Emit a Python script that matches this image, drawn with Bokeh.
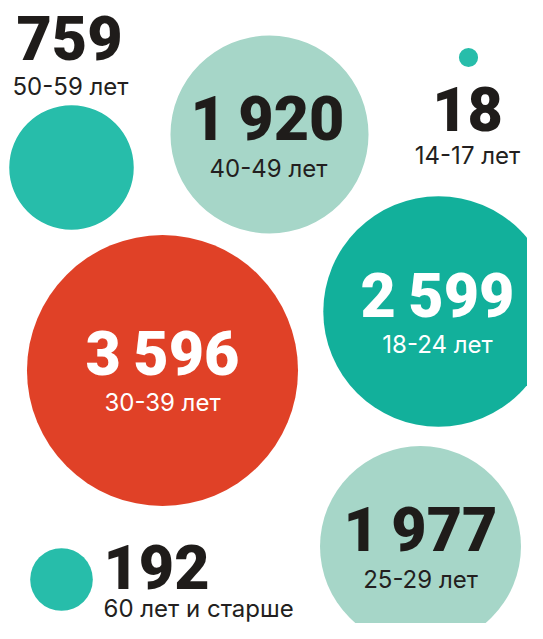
import math
from bokeh.plotting import figure
from bokeh.models import ColumnDataSource, Range1d
from bokeh.core.properties import value
from bokeh.embed import file_html
from bokeh.resources import INLINE

# ---- data ----
age_groups = ["50-59 лет", "40-49 лет", "14-17 лет", "18-24 лет", "30-39 лет", "25-29 лет", "60 лет и старше"]
counts = [759, 1920, 18, 2599, 3596, 1977, 192]

# ---- layout (pixel coordinates) ----
cx = [71, 269, 468, 438, 162, 420, 61]
cy = [167, 134, 57, 311, 370, 546, 579]
fills = ["#27BDAA", "#A6D6C8", "#27BDAA", "#12B09B", "#E04127", "#A6D6C8", "#27BDAA"]
num_x = [69, 267, 467, 437, 162, 420, 103]
num_y = [37, 118, 108, 295, 353, 529, 566]
lab_x = [70, 268, 467, 437, 162, 420, 103]
lab_y = [86, 168, 155, 344, 402, 579, 608]
align = ["center"] * 6 + ["left"]
num_col = ["#1f1c1a", "#1f1c1a", "#1f1c1a", "#ffffff", "#ffffff", "#1f1c1a", "#1f1c1a"]
lab_col = ["#231f20", "#231f20", "#231f20", "#ffffff", "#ffffff", "#231f20", "#231f20"]

K = 2.26
radii = [K * math.sqrt(v) for v in counts]
num_txt = [f"{v:,}".replace(",", "\u2009") for v in counts]

src = ColumnDataSource(dict(
    x=cx, y=cy, r=radii, fill=fills,
    nx=num_x, ny=num_y, ntxt=num_txt, ncol=num_col,
    lx=lab_x, ly=lab_y, ltxt=age_groups, lcol=lab_col, al=align,
))

W, H = 527, 623
p = figure(width=W, height=H, output_backend="svg", toolbar_location=None,
           x_range=Range1d(0, W), y_range=Range1d(H, 0),
           min_border=0, outline_line_color=None)
p.axis.visible = False
p.grid.visible = False
p.background_fill_color = "white"
p.border_fill_color = "white"

p.circle(x="x", y="y", radius="r", fill_color="fill", line_color=None, source=src)

p.text(x="nx", y="ny", text="ntxt", text_color="ncol", text_align="al",
       text_baseline="middle", text_font=value("'Roboto Black', Roboto"), text_font_style="bold",
       text_font_size="61px", source=src)
p.text(x="lx", y="ly", text="ltxt", text_color="lcol", text_align="al",
       text_baseline="middle", text_font=value("Inter"),
       text_font_size="24px", source=src)

open("out.html", "w").write(file_html(p, INLINE))
